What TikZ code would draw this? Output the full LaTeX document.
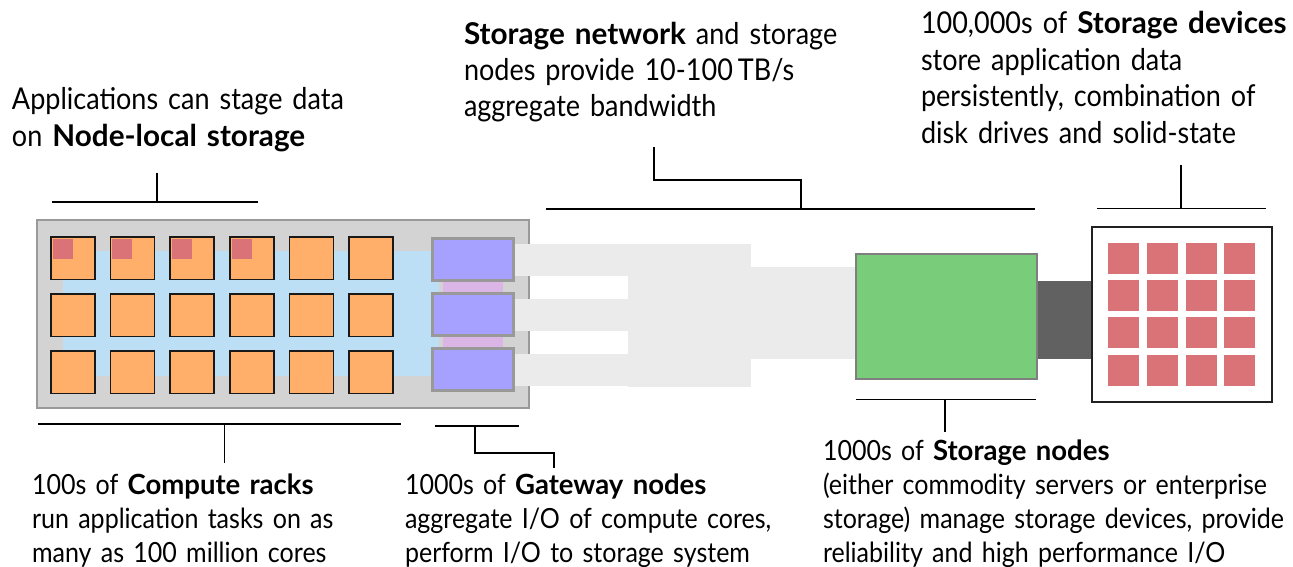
\documentclass[tikz,border=0pt]{standalone}
\usepackage{fontspec}
\setmainfont{Lato}[
  UprightFeatures={FakeStretch=0.9},
  BoldFeatures={FakeStretch=0.99}]
\definecolor{rackgray}{HTML}{D3D3D3}
\definecolor{rackedge}{HTML}{999999}
\definecolor{fabric}{HTML}{BDDFF5}
\definecolor{gwlink}{HTML}{DAB5E6}
\definecolor{corefill}{HTML}{FFAF69}
\definecolor{diskred}{HTML}{D97377}
\definecolor{gwfill}{HTML}{A6A1FF}
\definecolor{netgray}{HTML}{EBEBEB}
\definecolor{snfill}{HTML}{79CC7A}
\definecolor{snedge}{HTML}{7F7F7F}
\definecolor{sanlink}{HTML}{606160}
\begin{document}
\begin{tikzpicture}[x=1pt,y=-1pt,
  blk/.style={anchor=north west, inner sep=0pt, outer sep=0pt},
  rack/.style={blk, fill=rackgray, draw=rackedge, line width=2.5pt},
  plain/.style={blk, fill=#1},
  core/.style={blk, fill=corefill, draw=black!90, line width=1.5pt,
    minimum width=44pt, minimum height=42.5pt},
  localdisk/.style={blk, fill=diskred, minimum width=20pt, minimum height=19.5pt},
  gateway/.style={blk, fill=gwfill, draw=rackedge, line width=3pt,
    minimum width=81pt, minimum height=42.5pt},
  disk/.style={blk, fill=diskred, minimum width=31pt, minimum height=31pt},
  bracket/.style={draw=black, line width=1.6pt},
  note/.style={anchor=base west, inner sep=0pt, outer sep=0pt, align=left},
  toptext/.style={note, font=\fontsize{30}{#1}\selectfont},
  bottext/.style={note, font=\fontsize{27.8}{#1}\selectfont},
]
\useasboundingbox (0,0) rectangle (1293,567);

% compute rack with its interconnect and gateway links
\node[rack, minimum width=492pt, minimum height=188pt] (rackbox) at (37,220) {};
\node[plain=fabric, minimum width=376.6pt, minimum height=125pt] (fabricbox) at (62.7,250.7) {};
\node[plain=gwlink, minimum width=59.7pt, minimum height=125pt] (gwlinkbox) at (443,250.7) {};

% storage network bands
\foreach \yy [count=\i] in {244,299,354}
  \node[plain=netgray, minimum width=239pt, minimum height=32pt] (band-\i) at (512,\yy) {};
\node[plain=netgray, minimum width=123pt, minimum height=142.7pt] (netcore) at (628,244) {};
\node[plain=netgray, minimum width=107pt, minimum height=91.7pt] (netlink) at (750,267) {};

% compute cores
\foreach \c in {0,...,5}
  \foreach \r/\yy in {0/237,1/294,2/351}
    \node[core] (core-\r-\c) at ({51+59.6*\c},\yy) {};
% node-local storage on the first cores
\foreach \c in {0,...,3}
  \node[localdisk] (ssd-\c) at ({52.8+59.6*\c},239.3) {};

% gateway nodes
\foreach \yy [count=\i] in {238,293.3,348.3}
  \node[gateway] (gw-\i) at (432.7,\yy) {};

% storage node, SAN link, device enclosure
\node[plain=sanlink, minimum width=56pt, minimum height=77.7pt] (san) at (1036,281) {};
\node[blk, fill=snfill, draw=snedge, line width=2.5pt,
  minimum width=181pt, minimum height=125pt] (snode) at (856,254) {};
\node[blk, fill=white, draw=black!87, line width=1.8pt,
  minimum width=180.3pt, minimum height=174.7pt] (enclosure) at (1092,227) {};
\foreach \c/\xx in {0/1108,1/1147,2/1186,3/1224}
  \foreach \r/\yy in {0/243,1/280,2/317,3/355}
    \node[disk] (dev-\r-\c) at (\xx,\yy) {};

% brackets
\coordinate (nl-a) at (52,202);
\coordinate (nl-b) at (258,202);
\coordinate (nl-t) at (157,173);
\draw[bracket] (nl-a) -- (nl-b);
\draw[bracket] (nl-t) -- (nl-t |- nl-a);

\coordinate (sn-a) at (546,209);
\coordinate (sn-b) at (1035,209);
\coordinate (sn-j) at (801,180);
\coordinate (sn-t) at (654,147);
\draw[bracket] (sn-a) -- (sn-b);
\draw[bracket] (sn-j |- sn-a) -- (sn-j) -- (sn-t |- sn-j) -- (sn-t);

\coordinate (sd-a) at (1097,208.3);
\coordinate (sd-b) at (1266,208.3);
\coordinate (sd-t) at (1181,165);
\draw[bracket] (sd-a) -- (sd-b);
\draw[bracket] (sd-t) -- (sd-t |- sd-a);

\coordinate (cr-a) at (38,424);
\coordinate (cr-b) at (401,424);
\coordinate (cr-t) at (224.6,463);
\draw[bracket] (cr-a) -- (cr-b);
\draw[bracket] (cr-t |- cr-a) -- (cr-t);

\coordinate (gn-a) at (435,426);
\coordinate (gn-b) at (519,426);
\coordinate (gn-j) at (475,453);
\coordinate (gn-t) at (554,468);
\draw[bracket] (gn-a) -- (gn-b);
\draw[bracket] (gn-j |- gn-a) -- (gn-j) -- (gn-t |- gn-j) -- (gn-t);

\coordinate (so-a) at (856,399.3);
\coordinate (so-b) at (1036,399.3);
\coordinate (so-t) at (945,432);
\draw[bracket] (so-a) -- (so-b);
\draw[bracket] (so-t |- so-a) -- (so-t);

% annotations
\node[toptext=37, text width=400pt] (txt-local) at (12,110)
  {Applications can stage data\\on \textbf{Node-local storage}};
\node[toptext=36, text width=420pt] (txt-net) at (464,45)
  {\textbf{Storage network} and storage\\nodes provide 10-100\,TB/s\\aggregate bandwidth};
\node[toptext=36.5, text width=380pt] (txt-dev) at (921,34)
  {100,000s of \textbf{Storage devices}\\store application data\\persistently, combination of\\disk drives and solid-state};
\node[bottext=34, text width=370pt] (txt-rack) at (32,494)
  {100s of \textbf{Compute racks}\\run application tasks on as\\many as 100 million cores};
\node[bottext=34, text width=410pt] (txt-gw) at (405,494)
  {1000s of \textbf{Gateway nodes}\\aggregate I/O of compute cores,\\perform I/O to storage system};
\node[bottext=34, text width=470pt] (txt-sn) at (823,460)
  {1000s of \textbf{Storage nodes}\\(either commodity servers or enterprise\\storage) manage storage devices, provide\\reliability and high performance I/O};
\end{tikzpicture}
\end{document}
